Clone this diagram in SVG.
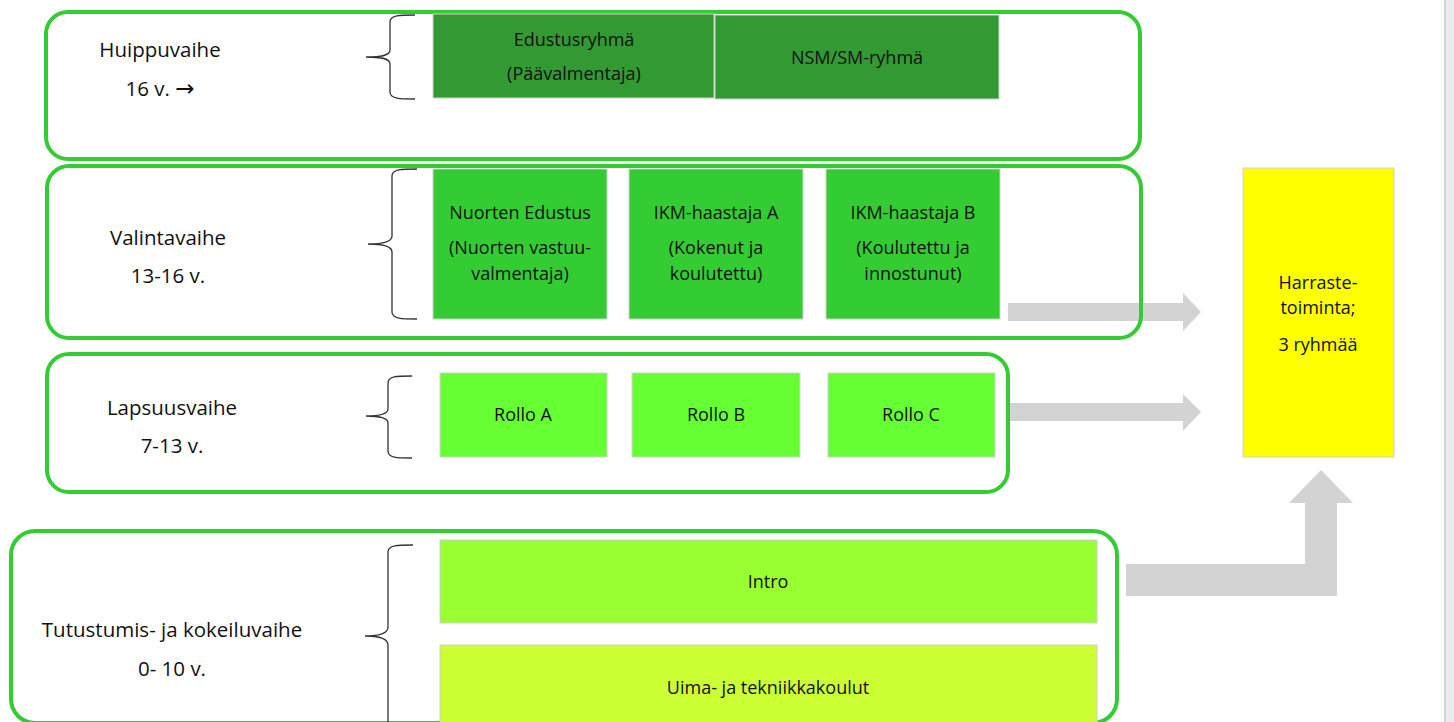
<svg xmlns="http://www.w3.org/2000/svg" width="1454" height="722" viewBox="0 0 1454 722">
<style>
.stage{fill:none;stroke:#33cc33;stroke-width:4}
.lbl{font-family:"Open Sans","Liberation Sans",sans-serif;font-size:20.5px;fill:#111;text-anchor:middle}
.t{font-family:"Open Sans","Liberation Sans",sans-serif;font-size:18px;fill:#111;text-anchor:middle}
.box{stroke:#d0d0d0;stroke-width:1}
.brace{fill:none;stroke:#333;stroke-width:1.3}
.arrow{fill:#d3d3d3}
</style>
<rect x="0" y="0" width="1454" height="722" fill="#ffffff"/>
<rect x="1444" y="0" width="2" height="722" fill="#d4d4d4"/>
<rect x="1446" y="0" width="8" height="722" fill="#e9edf1"/>

<g id="connectors">
  <polygon class="arrow" points="1008,303 1183,303 1183,293 1201,312 1183,331 1183,321 1008,321"/>
  <polygon class="arrow" points="1008,403 1183,403 1183,394 1201,412 1183,431 1183,421 1008,421"/>
  <polygon class="arrow" points="1126,564 1305,564 1305,503 1289,503 1321,470 1353,503 1337,503 1337,596 1126,596"/>
</g>

<g id="stage-huippu">
  <rect class="stage" x="46" y="12" width="1094" height="147" rx="22"/>
  <text class="lbl" x="160" y="57">Huippuvaihe</text>
  <text class="lbl" x="160" y="96">16 v. <tspan font-family="DejaVu Sans" font-size="23">→</tspan></text>
  <path class="brace" d="M415,15 C400,15 390,15 390,22 L390,50 C390,56 380,57 366,57 C380,57 390,58 390,64 L390,92 C390,99 400,99 415,99"/>
</g>
<g id="node-edustusryhma">
  <rect class="box" x="433" y="14" width="281" height="84" fill="#339933"/>
  <text class="t" x="574" y="46">Edustusryhmä</text>
  <text class="t" x="574" y="80">(Päävalmentaja)</text>
</g>
<g id="node-nsm">
  <rect class="box" x="715" y="15" width="284" height="84" fill="#339933"/>
  <text class="t" x="857" y="64">NSM/SM-ryhmä</text>
</g>

<g id="stage-valinta">
  <rect class="stage" x="47" y="166" width="1094" height="172" rx="22"/>
  <text class="lbl" x="168" y="245">Valintavaihe</text>
  <text class="lbl" x="168" y="283">13-16 v.</text>
  <path class="brace" d="M417,169 C402,169 392,169 392,176 L392,236 C392,242 382,244 368,244 C382,244 392,246 392,252 L392,312 C392,319 402,319 417,319"/>
</g>
<g id="node-nuorten">
  <rect class="box" x="433" y="169" width="174" height="150" fill="#33cc33"/>
  <text class="t" x="520" y="219">Nuorten Edustus</text>
  <text class="t" x="520" y="254">(Nuorten vastuu-</text>
  <text class="t" x="520" y="280">valmentaja)</text>
</g>
<g id="node-ikm-a">
  <rect class="box" x="629" y="169" width="174" height="150" fill="#33cc33"/>
  <text class="t" x="716" y="219">IKM-haastaja A</text>
  <text class="t" x="716" y="254">(Kokenut ja</text>
  <text class="t" x="716" y="280">koulutettu)</text>
</g>
<g id="node-ikm-b">
  <rect class="box" x="826" y="169" width="174" height="150" fill="#33cc33"/>
  <text class="t" x="913" y="219">IKM-haastaja B</text>
  <text class="t" x="913" y="254">(Koulutettu ja</text>
  <text class="t" x="913" y="280">innostunut)</text>
</g>

<g id="stage-lapsuus">
  <rect class="stage" x="47" y="354" width="961" height="138" rx="22"/>
  <text class="lbl" x="172" y="415">Lapsuusvaihe</text>
  <text class="lbl" x="172" y="453">7-13 v.</text>
  <path class="brace" d="M412,376 C397,376 388,376 388,383 L388,409 C388,414 379,416 366,416 C379,416 388,418 388,423 L388,451 C388,458 397,458 412,458"/>
</g>
<g id="node-rollo-a">
  <rect class="box" x="440" y="373" width="167" height="84" fill="#66ff33"/>
  <text class="t" x="523" y="421">Rollo A</text>
</g>
<g id="node-rollo-b">
  <rect class="box" x="632" y="373" width="168" height="84" fill="#66ff33"/>
  <text class="t" x="716" y="421">Rollo B</text>
</g>
<g id="node-rollo-c">
  <rect class="box" x="828" y="373" width="167" height="84" fill="#66ff33"/>
  <text class="t" x="911" y="421">Rollo C</text>
</g>

<g id="stage-tutustumis">
  <rect class="stage" x="11" y="531" width="1106" height="192" rx="24"/>
  <text class="lbl" x="172" y="637">Tutustumis- ja kokeiluvaihe</text>
  <text class="lbl" x="172" y="676">0- 10 v.</text>
  <path class="brace" d="M413,545 C398,545 388,545 388,552 L388,627 C388,633 379,636 365,636 C379,636 388,639 388,645 L388,722"/>
</g>
<g id="node-intro">
  <rect class="box" x="440" y="540" width="657" height="83" fill="#99ff33"/>
  <text class="t" x="768" y="588">Intro</text>
</g>
<g id="node-uima">
  <rect class="box" x="440" y="645" width="657" height="80" fill="#ccff33"/>
  <text class="t" x="768" y="694">Uima- ja tekniikkakoulut</text>
</g>

<g id="node-harraste">
  <rect class="box" x="1243" y="168" width="151" height="289" fill="#ffff00"/>
  <text class="t" x="1318" y="289">Harraste-</text>
  <text class="t" x="1318" y="314">toiminta;</text>
  <text class="t" x="1318" y="351">3 ryhmää</text>
</g>
</svg>
